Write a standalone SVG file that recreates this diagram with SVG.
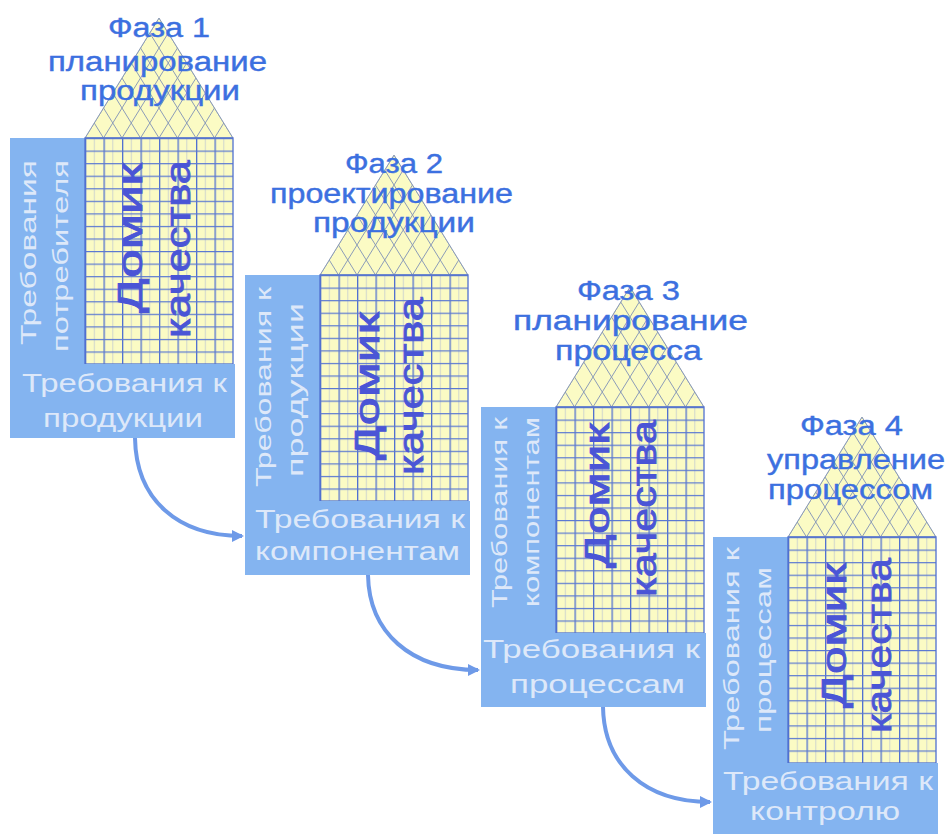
<svg xmlns="http://www.w3.org/2000/svg" xmlns:xlink="http://www.w3.org/1999/xlink" width="947" height="834" viewBox="0 0 947 834">
<style>
.col,.box{fill:#84b4f0}
.ttl{font-family:"Liberation Sans",Arial,sans-serif;font-size:27px;fill:#3c70e0;stroke:#3c70e0;stroke-width:0.4}
.vt{font-family:"Liberation Sans",Arial,sans-serif;font-size:22px;fill:#dde8f9}
.bt{font-family:"Liberation Sans",Arial,sans-serif;font-size:25px;fill:#dde8f9}
.dk{font-family:"Liberation Sans",Arial,sans-serif;font-size:35px;fill:#4a55d6;stroke:#4a55d6;stroke-width:0.8}
.arr{fill:none;stroke:#6e9ae8;stroke-width:4}
</style>
<defs>
<pattern id="gridPat" patternUnits="userSpaceOnUse" x="75" y="0" width="18.5" height="12.556">
<rect width="18.5" height="12.556" fill="#fbfbc4"/>
<rect x="9" width="0.8" height="12.556" fill="#c4ccd0"/>
<rect width="1.3" height="12.556" fill="#5070d0"/>
<rect width="18.5" height="1.2" fill="#5a78d2"/>
</pattern>
<clipPath id="roofClip"><polygon points="75,0 223,0 149,-120"/></clipPath>
<marker id="ah" markerUnits="userSpaceOnUse" markerWidth="14" markerHeight="14" refX="10" refY="7" orient="auto">
<path d="M0,1 L12,7 L0,13 z" fill="#6e9ae8"/>
</marker>
<g id="house">
<rect class="col" x="0" y="0" width="75" height="226"/>
<rect x="75" y="0" width="148" height="226" fill="url(#gridPat)"/>
<rect x="75" y="0" width="148" height="226" fill="none" stroke="#5070d0" stroke-width="1.3"/>
<polygon points="75,0 223,0 149,-120" fill="#fbfbc4"/>
<path clip-path="url(#roofClip)" fill="none" stroke="#8c9cb8" stroke-width="1" d="M75 0l148-240M93.5 0l148-240M112 0l148-240M130.5 0l148-240M149 0l148-240M167.5 0l148-240M186 0l148-240M204.5 0l148-240M223 0l-148-240M204.5 0l-148-240M186 0l-148-240M167.5 0l-148-240M149 0l-148-240M130.5 0l-148-240M112 0l-148-240M93.5 0l-148-240"/>
<polygon points="75,0 223,0 149,-120" fill="none" stroke="#8c9cb8" stroke-width="1"/>
<line x1="75" y1="0" x2="223" y2="0" stroke="#5070d0" stroke-width="1.3"/>
<rect class="box" x="0" y="226" width="225" height="74"/>
</g>
</defs>
<rect width="947" height="834" fill="#ffffff"/>

<g id="phase1" transform="translate(10,138)">
<use xlink:href="#house" href="#house"/>
<text class="vt" transform="translate(26,207) rotate(-90)" textLength="185" lengthAdjust="spacingAndGlyphs">Требования</text>
<text class="vt" transform="translate(58,214) rotate(-90)" textLength="192" lengthAdjust="spacingAndGlyphs">потребителя</text>
<text class="dk" transform="translate(132,175) rotate(-90)" textLength="150" lengthAdjust="spacingAndGlyphs">Домик</text>
<text class="dk" transform="translate(180,200) rotate(-90)" textLength="178" lengthAdjust="spacingAndGlyphs">качества</text>
<text class="ttl" x="98" y="-101" textLength="102" lengthAdjust="spacingAndGlyphs">Фаза 1</text>
<text class="ttl" x="38" y="-67" textLength="219" lengthAdjust="spacingAndGlyphs">планирование</text>
<text class="ttl" x="70" y="-38" textLength="160" lengthAdjust="spacingAndGlyphs">продукции</text>
<text class="bt" x="12" y="254" textLength="205" lengthAdjust="spacingAndGlyphs">Требования к</text>
<text class="bt" x="33" y="289" textLength="160" lengthAdjust="spacingAndGlyphs">продукции</text>
</g>

<g id="phase2" transform="translate(245,275)">
<use xlink:href="#house" href="#house"/>
<text class="vt" transform="translate(26,212) rotate(-90)" textLength="200" lengthAdjust="spacingAndGlyphs">Требования к</text>
<text class="vt" transform="translate(58,202) rotate(-90)" textLength="174" lengthAdjust="spacingAndGlyphs">продукции</text>
<text class="dk" transform="translate(134,185) rotate(-90)" textLength="148" lengthAdjust="spacingAndGlyphs">Домик</text>
<text class="dk" transform="translate(178,200) rotate(-90)" textLength="178" lengthAdjust="spacingAndGlyphs">качества</text>
<text class="ttl" x="100" y="-102" textLength="98" lengthAdjust="spacingAndGlyphs">Фаза 2</text>
<text class="ttl" x="25" y="-72" textLength="243" lengthAdjust="spacingAndGlyphs">проектирование</text>
<text class="ttl" x="68" y="-43" textLength="162" lengthAdjust="spacingAndGlyphs">продукции</text>
<text class="bt" x="10" y="253" textLength="210" lengthAdjust="spacingAndGlyphs">Требования к</text>
<text class="bt" x="10" y="285" textLength="205" lengthAdjust="spacingAndGlyphs">компонентам</text>
</g>

<g id="phase3" transform="translate(481,407)">
<use xlink:href="#house" href="#house"/>
<text class="vt" transform="translate(26,201) rotate(-90)" textLength="191" lengthAdjust="spacingAndGlyphs">Требования к</text>
<text class="vt" transform="translate(58,200) rotate(-90)" textLength="190" lengthAdjust="spacingAndGlyphs">компонентам</text>
<text class="dk" transform="translate(128,161) rotate(-90)" textLength="145" lengthAdjust="spacingAndGlyphs">Домик</text>
<text class="dk" transform="translate(175,190) rotate(-90)" textLength="177" lengthAdjust="spacingAndGlyphs">качества</text>
<text class="ttl" x="96" y="-107" textLength="103" lengthAdjust="spacingAndGlyphs">Фаза 3</text>
<text class="ttl" x="32" y="-77" textLength="235" lengthAdjust="spacingAndGlyphs">планирование</text>
<text class="ttl" x="74" y="-47" textLength="147" lengthAdjust="spacingAndGlyphs">процесса</text>
<text class="bt" x="2" y="251" textLength="217" lengthAdjust="spacingAndGlyphs">Требования к</text>
<text class="bt" x="29" y="286" textLength="175" lengthAdjust="spacingAndGlyphs">процессам</text>
</g>

<g id="phase4" transform="translate(713,537)">
<use xlink:href="#house" href="#house"/>
<text class="vt" transform="translate(26,213) rotate(-90)" textLength="203" lengthAdjust="spacingAndGlyphs">Требования к</text>
<text class="vt" transform="translate(58,196) rotate(-90)" textLength="166" lengthAdjust="spacingAndGlyphs">процессам</text>
<text class="dk" transform="translate(133,171) rotate(-90)" textLength="145" lengthAdjust="spacingAndGlyphs">Домик</text>
<text class="dk" transform="translate(178,196) rotate(-90)" textLength="175" lengthAdjust="spacingAndGlyphs">качества</text>
<text class="ttl" x="87" y="-102" textLength="103" lengthAdjust="spacingAndGlyphs">Фаза 4</text>
<text class="ttl" x="54" y="-68" textLength="178" lengthAdjust="spacingAndGlyphs">управление</text>
<text class="ttl" x="55" y="-38" textLength="165" lengthAdjust="spacingAndGlyphs">процессом</text>
<text class="bt" x="10" y="253" textLength="210" lengthAdjust="spacingAndGlyphs">Требования к</text>
<text class="bt" x="37" y="283" textLength="150" lengthAdjust="spacingAndGlyphs">контролю</text>
</g>

<g id="connectors">
<path class="arr" d="M135 438 C136 500,178 536,242 536" marker-end="url(#ah)"/>
<path class="arr" d="M368 575 C369 632,410 670,478 670" marker-end="url(#ah)"/>
<path class="arr" d="M603 707 C604 765,645 802,710 802" marker-end="url(#ah)"/>
</g>
</svg>
